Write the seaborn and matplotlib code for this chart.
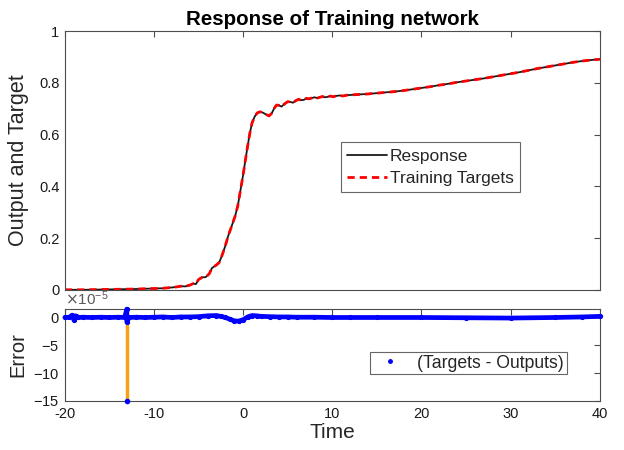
import numpy as np
import pandas as pd
import matplotlib
matplotlib.use("Agg")
import matplotlib.pyplot as plt
import seaborn as sns
from matplotlib.lines import Line2D
from matplotlib.ticker import ScalarFormatter, FuncFormatter

# ---------------- data ----------------
time = [-20, -18, -16, -14, -12, -10, -9, -8, -7.5, -7, -6.5, -6, -5.6, -5.3, -5.0,
        -4.6, -4.2, -3.8, -3.5, -3.0, -2.7, -2.4, -2.0, -1.7, -1.3, -0.9, -0.6,
        -0.35, 0.0, 0.2, 0.5, 0.75, 1.0, 1.3, 1.6, 1.9, 2.2, 2.5, 2.9, 3.2, 3.5,
        3.75, 4.0, 4.3, 4.7, 5.0, 5.3, 5.6, 5.9, 6.2, 6.5, 6.8, 7.1, 7.4, 7.7,
        8.0, 8.3, 8.6, 8.9, 9.2, 9.5, 9.8, 10.1, 10.4, 10.8, 11.2, 11.6, 12, 13,
        14, 15, 16, 17, 18, 19, 20, 21, 22, 23, 24, 25, 26, 27, 28, 29, 30, 31,
        32, 33, 34, 35, 36, 37, 38, 39, 40]
response = [0.000, 0.000, 0.001, 0.002, 0.003, 0.005, 0.006, 0.009, 0.011, 0.014,
            0.013, 0.018, 0.024, 0.022, 0.040, 0.048, 0.049, 0.062, 0.084, 0.096,
            0.105, 0.130, 0.170, 0.206, 0.245, 0.285, 0.325, 0.375, 0.445, 0.490,
            0.555, 0.605, 0.645, 0.670, 0.684, 0.688, 0.685, 0.679, 0.672, 0.682,
            0.702, 0.714, 0.713, 0.708, 0.720, 0.727, 0.726, 0.723, 0.731, 0.736,
            0.733, 0.734, 0.740, 0.738, 0.741, 0.744, 0.741, 0.744, 0.747, 0.744,
            0.746, 0.749, 0.746, 0.749, 0.751, 0.749, 0.752, 0.753, 0.755, 0.757,
            0.760, 0.763, 0.766, 0.770, 0.775, 0.780, 0.785, 0.791, 0.796, 0.802,
            0.807, 0.812, 0.817, 0.823, 0.829, 0.835, 0.841, 0.848, 0.855, 0.861,
            0.867, 0.873, 0.879, 0.884, 0.888, 0.891]
targets = [0.000, 0.000, 0.001, 0.002, 0.003, 0.005, 0.006, 0.009, 0.011, 0.014,
           0.013, 0.018, 0.024, 0.022, 0.040, 0.048, 0.049, 0.062, 0.084, 0.096,
           0.105, 0.130, 0.170, 0.206, 0.245, 0.285, 0.325, 0.375, 0.445, 0.490,
           0.555, 0.605, 0.645, 0.670, 0.684, 0.688, 0.685, 0.679, 0.672, 0.682,
           0.702, 0.714, 0.713, 0.708, 0.720, 0.727, 0.726, 0.723, 0.731, 0.736,
           0.733, 0.734, 0.740, 0.738, 0.741, 0.744, 0.741, 0.744, 0.747, 0.744,
           0.746, 0.749, 0.746, 0.749, 0.751, 0.749, 0.752, 0.753, 0.755, 0.757,
           0.760, 0.763, 0.766, 0.770, 0.775, 0.780, 0.785, 0.791, 0.796, 0.802,
           0.807, 0.812, 0.817, 0.823, 0.829, 0.835, 0.841, 0.848, 0.855, 0.861,
           0.867, 0.873, 0.879, 0.884, 0.888, 0.891]

# errors (Targets - Outputs), in units of 1e-5
err_time = [-20, -19.5, -19.2, -19.0, -18.8, -18.5, -18, -17, -16, -15, -14, -13.3,
            -13.05, -13.05, -12.8, -12, -11, -10, -9, -8, -7, -6, -5, -4, -3, -2.5,
            -2, -1.5, -1, -0.5, 0, 0.5, 1, 1.5, 2, 3, 4, 5, 6, 8, 10, 12, 15, 20,
            25, 30, 35, 38, 40]
err_vals = [0.0, 0.05, 0.4, -0.4, 0.3, 0.0, 0.05, 0.0, 0.05, 0.0, 0.05, 0.0,
            1.5, -0.8, 0.0, 0.05, 0.0, 0.05, 0.1, 0.0, 0.1, 0.1, 0.15, 0.3, 0.35,
            0.2, 0.0, -0.3, -0.6, -0.65, -0.4, 0.1, 0.35, 0.3, 0.2, 0.15, 0.1, 0.1,
            0.05, 0.05, 0.0, 0.0, 0.0, 0.0, -0.05, -0.1, 0.0, 0.1, 0.2]
spike_time = -13.05
spike_bottom = -15.0

xticks = [-20, -10, 0, 10, 20, 30, 40]
yticks_top = [0, 0.2, 0.4, 0.6, 0.8, 1]
yticks_err = [0, -5, -10, -15]

# ---------------- style ----------------
sns.set_style("white")
plt.rcParams['font.family'] = ['Liberation Sans', 'DejaVu Sans']
plt.rcParams['axes.unicode_minus'] = False

axc = '0.3'
fig = plt.figure(figsize=(6.24, 4.5), dpi=100)
ax1 = fig.add_axes([0.104, 0.356, 0.857, 0.575])
ax2 = fig.add_axes([0.104, 0.109, 0.857, 0.204])

df = pd.DataFrame({'Time': time, 'Response': response, 'Targets': targets})
sns.lineplot(data=df, x='Time', y='Response', ax=ax1, color='#1a1a1a', lw=1.3,
             label='Response', estimator=None, sort=False)
sns.lineplot(data=df, x='Time', y='Targets', ax=ax1, color='red', lw=2.0,
             linestyle=(0, (2.6, 1.8)), label='Training Targets',
             estimator=None, sort=False)

edf = pd.DataFrame({'Time': err_time, 'Err': np.array(err_vals) * 1e-5})
ax2.plot([spike_time, spike_time], [0, spike_bottom * 1e-5], color='#f7a11a',
         lw=2.5, zorder=2)
sns.lineplot(data=edf, x='Time', y='Err', ax=ax2, color='blue', lw=3.4,
             marker='.', markersize=6, markeredgecolor='blue',
             estimator=None, sort=False, zorder=3)
ax2.plot([spike_time], [spike_bottom * 1e-5], marker='.', color='blue', ms=6,
         clip_on=False, zorder=4)
for l in ax2.lines:
    l.set_clip_on(False)

for ax in (ax1, ax2):
    ax.set_xlim(-20, 40)
    ax.set_xticks(xticks)
    for s in ax.spines.values():
        s.set_color(axc)
        s.set_linewidth(0.8)
    ax.tick_params(direction='in', length=4, width=0.8, color=axc,
                   top=True, right=True, labelsize=10.5, labelcolor='0.1', pad=4)

ax1.set_ylim(0, 1)
ax1.set_yticks(yticks_top)
ax1.yaxis.set_major_formatter(FuncFormatter(lambda v, p: f"{v:g}"))
ax1.set_xticklabels([])
ax1.set_xlabel('')
ax1.set_ylabel('Output and Target', fontsize=15.5, labelpad=7)
ax1.set_title('Response of Training network', fontsize=14.8, fontweight='bold',
              pad=4, color='black')

ax2.set_ylim(-15e-5, 1.5e-5)
ax2.set_yticks([v * 1e-5 for v in yticks_err])
fmt = ScalarFormatter(useMathText=True)
fmt.set_powerlimits((-5, -5))
ax2.yaxis.set_major_formatter(fmt)
ax2.yaxis.get_offset_text().set_fontsize(11)
ax2.yaxis.get_offset_text().set_color('0.35')
ax2.set_xticklabels([str(t) for t in xticks])
ax2.set_ylabel('Error', fontsize=14.5, labelpad=4)
ax2.set_xlabel('Time', fontsize=15, labelpad=2)

leg1 = ax1.legend(loc='upper left', bbox_to_anchor=(0.516, 0.571), fontsize=12.5,
                  frameon=True, fancybox=False, edgecolor='0.4', framealpha=1,
                  handlelength=2.3, handletextpad=0.15, borderpad=0.38,
                  labelspacing=0.4, borderaxespad=0)
leg1.get_frame().set_linewidth(0.8)

h = Line2D([], [], color='blue', marker='.', ls='none', ms=5)
leg2 = ax2.legend([h], ['(Targets - Outputs)'], loc='upper left',
                  bbox_to_anchor=(0.57, 0.533), fontsize=12.7, frameon=True,
                  fancybox=False, edgecolor='0.4', framealpha=1,
                  handlelength=2.0, handletextpad=0.55, borderpad=0.15,
                  borderaxespad=0)
leg2.get_frame().set_linewidth(0.8)

fig.savefig('out.png', dpi=100)
